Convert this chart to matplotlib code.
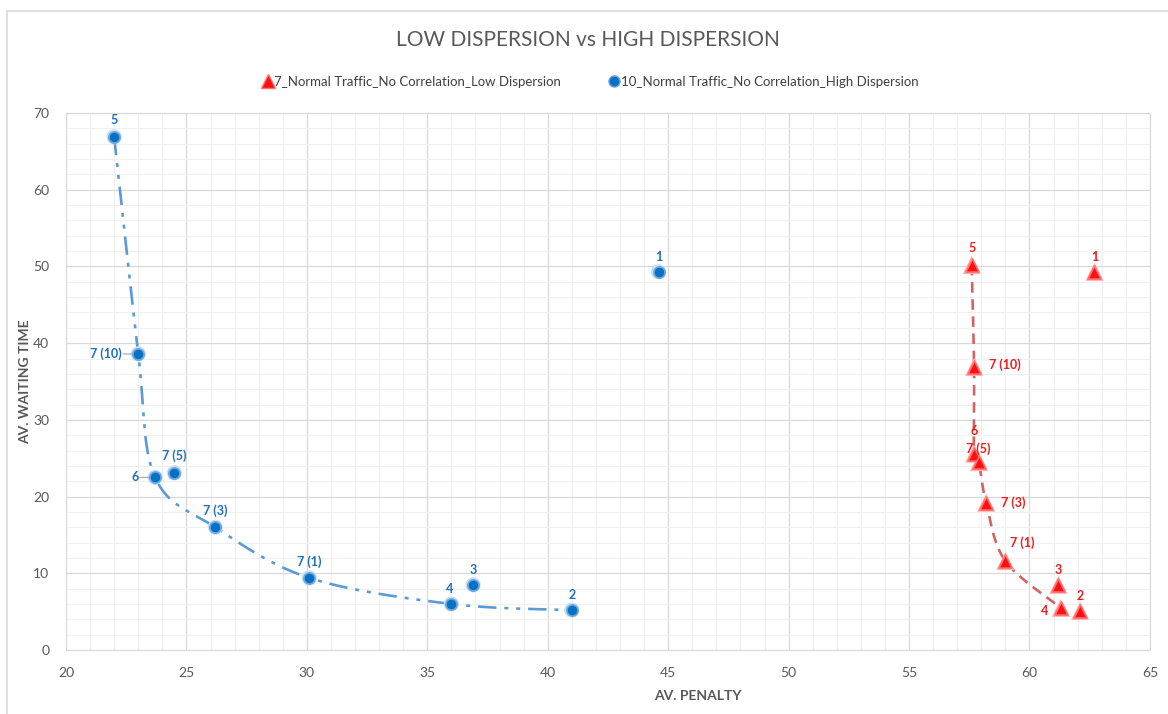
import numpy as np
import matplotlib.pyplot as plt
from matplotlib.lines import Line2D

plt.rcParams['font.family'] = ['Lato', 'DejaVu Sans']

# 7_Normal Traffic_No Correlation_Low Dispersion
low_labels = ['1', '2', '3', '4', '5', '6', '7 (1)', '7 (3)', '7 (5)', '7 (10)']
low_penalty = [62.7, 62.1, 61.2, 61.3, 57.6, 57.7, 59.0, 58.2, 57.9, 57.7]
low_wait = [49.3, 5.1, 8.5, 5.5, 50.2, 25.6, 11.6, 19.2, 24.5, 36.9]
low_front = ['5', '7 (10)', '6', '7 (5)', '7 (3)', '7 (1)', '4']

# 10_Normal Traffic_No Correlation_High Dispersion
high_labels = ['1', '2', '3', '4', '5', '6', '7 (1)', '7 (3)', '7 (5)', '7 (10)']
high_penalty = [44.6, 41.0, 36.9, 36.0, 22.0, 23.7, 30.1, 26.2, 24.5, 23.0]
high_wait = [49.3, 5.2, 8.5, 6.0, 66.9, 22.5, 9.4, 16.0, 23.1, 38.6]
high_front = ['5', '7 (10)', '6', '7 (3)', '7 (1)', '4', '2']

# label offsets (points) and alignment per point
low_offsets = {'1': (0, 11, 'center'), '2': (0, 11, 'center'), '3': (0, 11, 'center'),
               '4': (-9, -2, 'right'), '5': (0, 12, 'center'), '6': (0, 16, 'center'),
               '7 (1)': (3, 13, 'left'), '7 (3)': (11, 0, 'left'),
               '7 (5)': (-9, 10, 'left'), '7 (10)': (11, 2, 'left')}
high_offsets = {'1': (0, 11, 'center'), '2': (0, 11, 'center'), '3': (0, 11, 'center'),
                '4': (-1, 11, 'center'), '5': (0, 12, 'center'), '6': (-12, 0, 'right'),
                '7 (1)': (0, 12, 'center'), '7 (3)': (0, 12, 'center'),
                '7 (5)': (0, 12, 'center'), '7 (10)': (-12, 0, 'right')}
leaders = {'6', '7 (10)'}


def smooth(xs, ys, n=30):
    # Catmull-Rom style curve through the points, like a spreadsheet smoothed line
    p = np.column_stack([xs, ys]).astype(float)
    p = np.vstack([p[0], p, p[-1]])
    out = []
    t = np.linspace(0, 1, n)[:, None]
    for i in range(1, len(p) - 2):
        p0, p1, p2, p3 = p[i - 1], p[i], p[i + 1], p[i + 2]
        c1 = p1 + (p2 - p0) / 6
        c2 = p2 - (p3 - p1) / 6
        seg = ((1 - t) ** 3) * p1 + 3 * ((1 - t) ** 2) * t * c1 + 3 * (1 - t) * t ** 2 * c2 + t ** 3 * p2
        out.append(seg)
    out = np.vstack(out)
    return out[:, 0], out[:, 1]


def front_xy(labels, xs, ys, order):
    idx = [labels.index(k) for k in order]
    return [xs[i] for i in idx], [ys[i] for i in idx]


fig = plt.figure(figsize=(11.68, 7.14), dpi=100)
ax = fig.add_axes([0.0565, 0.0896, 0.928, 0.7521])

ax.set_xlim(20, 65)
ax.set_ylim(0, 70)
ax.set_xticks(np.arange(20, 66, 5))
ax.set_yticks(np.arange(0, 71, 10))
ax.set_xticks(np.arange(20, 66, 1), minor=True)
ax.set_yticks(np.arange(0, 71, 2), minor=True)
ax.grid(which='major', color='#d9d9d9', lw=0.9)
ax.grid(which='minor', color='#f0f0f0', lw=0.8)
ax.set_axisbelow(True)
ax.tick_params(which='both', length=0, colors='#595959', labelsize=10, pad=12)
for s in ax.spines.values():
    s.set_color('#d9d9d9')

blue_line = '#5b9bd5'
blue_fill = '#0a70c4'
red_line = '#d46363'
red_fill = '#ff1010'

fx, fy = front_xy(high_labels, high_penalty, high_wait, high_front)
sx, sy = smooth(fx, fy)
ax.plot(sx, sy, color=blue_line, lw=1.9, dashes=(7, 3, 1.5, 3, 1.5, 3), zorder=2)

fx, fy = front_xy(low_labels, low_penalty, low_wait, low_front)
sx, sy = smooth(fx, fy)
ax.plot(sx, sy, color=red_line, lw=1.9, dashes=(4, 2.5), zorder=2)

ax.scatter(high_penalty, high_wait, s=120, marker='o', color='#c9def2', edgecolors='none', zorder=3)
ax.scatter(high_penalty, high_wait, s=65, marker='o', color=blue_fill, edgecolors='#6aa8e0',
           linewidth=1.2, zorder=4)
ax.scatter(low_penalty, low_wait, s=170, marker='^', color='#ffb0b0', edgecolors='none', zorder=3)
ax.scatter(low_penalty, low_wait, s=90, marker='^', color=red_fill, edgecolors='#ff7070',
           linewidth=1.2, zorder=4)

for lab, x, y in zip(high_labels, high_penalty, high_wait):
    dx, dy, ha = high_offsets[lab]
    ax.annotate(lab, (x, y), xytext=(dx, dy), textcoords='offset points', ha=ha, va='center',
                color='#1f6fbf', fontsize=9, fontweight='bold', zorder=5)
    if lab in leaders:
        ax.annotate('', (x, y), xytext=(dx + 1, 0), textcoords='offset points',
                    arrowprops=dict(arrowstyle='-', color='#a6a6a6', lw=0.8, shrinkA=0, shrinkB=4))

for lab, x, y in zip(low_labels, low_penalty, low_wait):
    dx, dy, ha = low_offsets[lab]
    ax.annotate(lab, (x, y), xytext=(dx, dy), textcoords='offset points', ha=ha, va='center',
                color='#ee1c1c', fontsize=9, fontweight='bold', zorder=5)

ax.set_xlabel('AV. PENALTY', color='#595959', fontsize=10, fontweight='bold')
ax.set_ylabel('AV. WAITING TIME', color='#595959', fontsize=10, fontweight='bold')
ax.xaxis.set_label_coords(0.583, -0.075)
ax.yaxis.set_label_coords(-0.032, 0.5)

fig.text(0.503, 0.944, 'LOW DISPERSION vs HIGH DISPERSION', ha='center', va='center',
         fontsize=15, color='#595959')

handles = [Line2D([], [], ls='none', marker='^', ms=10, color=red_fill, markeredgecolor='#ff7070'),
           Line2D([], [], ls='none', marker='o', ms=8, color=blue_fill, markeredgecolor='#6aa8e0')]
fig.legend(handles, ['7_Normal Traffic_No Correlation_Low Dispersion',
                     '10_Normal Traffic_No Correlation_High Dispersion'],
           loc='center', bbox_to_anchor=(0.505, 0.885), ncol=2, frameon=False, fontsize=9.5,
           handletextpad=0.0, columnspacing=3.5, labelcolor='#404040', handlelength=1.0)

# chart border
fig.add_artist(plt.Rectangle((0.006, -0.01), 1.1, 0.995, transform=fig.transFigure,
                             fill=False, edgecolor='#d9d9d9', lw=1.2))

fig.savefig('out.png', dpi=100)
